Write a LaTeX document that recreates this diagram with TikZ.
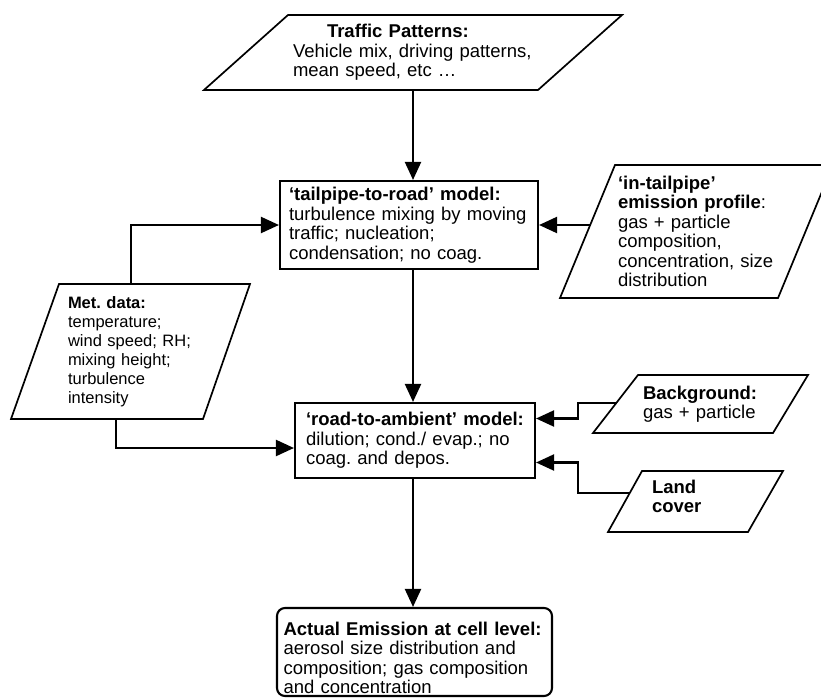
\documentclass[tikz,border=0pt]{standalone}
\usepackage{fontspec}
\setmainfont{Liberation Sans}
\usetikzlibrary{arrows.meta}
\frenchspacing

\begin{document}
\begin{tikzpicture}[x=1pt, y=-1pt,
  every node/.style={font=\fontsize{18.5}{19.5}\selectfont, align=left},
  model/.style={draw, line width=2.1pt, inner xsep=0pt},
  datain/.style={line width=1.7pt, line join=miter},
  arr/.style={-{Triangle[length=18pt,width=16pt]}, line width=2.1pt}]
\useasboundingbox (0,0) rectangle (821,698);
\coordinate (axis) at (413,0);
\coordinate (elbow) at (578,0);

% data going in
\draw[datain] (288,15) -- (622,15) -- (538,90) -- (204,90) -- cycle;
\node[text width=240] (traffic) at (413,52.5)
  {\hspace*{34pt}\textbf{Traffic Patterns:}\\Vehicle mix, driving patterns,\\mean speed, etc \dots};
\coordinate (traffic-out) at (413,90);

\draw[datain] (615,165) -- (833,165) -- (778,298) -- (560,298) -- cycle;
\node[text width=157] (intail) at (696.5,231.5)
  {\textbf{`in-tailpipe'}\\\textbf{emission profile}:\\gas + particle\\composition,\\concentration, size\\distribution};
\coordinate (intail-out) at (590,225);

\draw[datain] (59,284) -- (250,284) -- (203,419) -- (11,419) -- cycle;
\node[text width=125, font=\fontsize{16.5}{19}\selectfont] (met) at (130.5,351.5)
  {\textbf{Met. data:}\\temperature;\\wind speed; RH;\\mixing height;\\turbulence\\intensity};
\coordinate (met-up) at (131,284);
\coordinate (met-down) at (116,419);

\draw[datain] (638,375) -- (808,375) -- (773,433) -- (593,433) -- cycle;
\node[text width=115] (bg) at (700.5,404)
  {\textbf{Background:}\\gas + particle};
\coordinate (bg-out) at (616,403);

\draw[datain] (642,471) -- (783,471) -- (748,532) -- (608,532) -- cycle;
\node[text width=87] (land) at (695.5,496.5)
  {\textbf{Land}\\\textbf{cover}};
\coordinate (land-out) at (630,493);

% models
\node[model, minimum width=258, minimum height=88, text width=240] (tailpipe) at (409,225)
  {\textbf{`tailpipe-to-road' model:}\\turbulence mixing by moving\\traffic; nucleation;\\condensation; no coag.};
\node[model, minimum width=240, minimum height=75, text width=218] (road) at (415,440.5)
  {\textbf{`road-to-ambient' model:}\\dilution; cond./ evap.; no\\coag. and depos.};
\node[model, rounded corners=8pt, minimum width=275, minimum height=88, text width=262,
  inner ysep=0pt, text height=25pt] (actual) at (414.5,652)
  {\textbf{Actual Emission at cell level:}\\aerosol size distribution and\\composition; gas composition\\and concentration};

% arrows
\draw[arr] (traffic-out) -- (tailpipe.north -| axis);
\draw[arr] (tailpipe.south -| axis) -- (road.north -| axis);
\draw[arr] (road.south -| axis) -- (actual.north -| axis);
\draw[arr] (intail-out) -- (tailpipe.east);
\draw[arr] (met-up) |- (tailpipe.west);
\draw[arr] (met-down) |- ([yshift=-7.5pt]road.west);
\draw[arr] (bg-out) -- (bg-out -| elbow) |- ([yshift=22pt]road.east);
\draw[arr] (land-out) -- (land-out -| elbow) |- ([yshift=-22pt]road.east);
\end{tikzpicture}
\end{document}
